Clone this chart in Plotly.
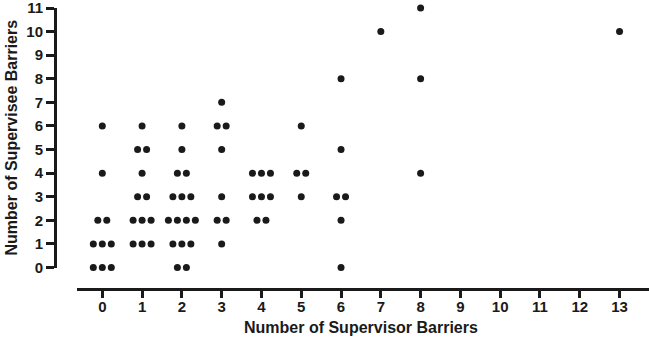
import plotly.graph_objects as go
from collections import defaultdict

# Data: supervisor barriers (x) vs supervisee barriers (y), one entry per participant
supervisor_barriers = (
    [0] * 10 + [1] * 12 + [2] * 16 + [3] * 8 + [4] * 8 + [5] * 4 + [6] * 6 + [7] * 1 + [8] * 3 + [13] * 1
)
supervisee_barriers = (
    [0, 0, 0, 1, 1, 1, 2, 2, 4, 6]
    + [1, 1, 1, 2, 2, 2, 3, 3, 4, 5, 5, 6]
    + [0, 0, 1, 1, 1, 2, 2, 2, 2, 3, 3, 3, 4, 4, 5, 6]
    + [1, 2, 2, 3, 5, 6, 6, 7]
    + [2, 2, 3, 3, 3, 4, 4, 4]
    + [3, 4, 4, 6]
    + [0, 2, 3, 3, 5, 8]
    + [10]
    + [4, 8, 11]
    + [10]
)
x_ticks = list(range(0, 14))
y_ticks = list(range(0, 12))
x_title = "Number of Supervisor Barriers"
y_title = "Number of Supervisee Barriers"

# Deterministic "scatter dot plot" spreading of identical values
groups = defaultdict(int)
for x, y in zip(supervisor_barriers, supervisee_barriers):
    groups[(x, y)] += 1
spread = 0.226
xs, ys = [], []
for (x, y), n in groups.items():
    for i in range(n):
        xs.append(x + (i - (n - 1) / 2) * spread)
        ys.append(y)

W, H = 649, 342
ml, mr, mt, mb = 55, 0, 8, 53
ph = H - mt - mb
pw = W - ml - mr
dx = (77 - ml) / pw
dy = (289 - 267.5) / ph

def px_to_paper_x(px):
    return (px - ml) / pw

def px_to_paper_y(py):
    return (H - mb - py) / ph

font_family = "Liberation Sans, Arial, sans-serif"
ink = "#1a1a1a"

fig = go.Figure()
fig.add_trace(go.Scatter(
    x=xs, y=ys, mode="markers",
    marker=dict(size=7, color=ink, line=dict(width=0)),
    cliponaxis=False, hoverinfo="skip",
))

axis_common = dict(
    anchor="free", position=0,
    tickmode="array",
    showline=True, linecolor=ink, linewidth=3,
    ticks="outside", tickwidth=2.5, tickcolor=ink,
    showgrid=False, zeroline=False,
    ticklabeloverflow="allow",
    tickfont=dict(family=font_family, size=15, weight="bold", color=ink),
)

fig.update_layout(
    width=W, height=H,
    margin=dict(l=ml, r=mr, t=mt, b=mb, pad=0),
    paper_bgcolor="white", plot_bgcolor="white",
    showlegend=False,
    font=dict(family=font_family, color=ink, size=15, weight="bold"),
    xaxis=dict(domain=[dx, 1], range=[-0.636, 13.74], ticklen=7, ticklabelstandoff=-4,
               tickvals=x_ticks, ticktext=[str(v) for v in x_ticks], **axis_common),
    yaxis=dict(domain=[dy, 1], range=[0, 11], ticklen=8,
               tickvals=y_ticks, ticktext=[str(v) for v in y_ticks], **axis_common),
    annotations=[
        dict(text=x_title, xref="paper", yref="paper",
             x=px_to_paper_x(361), y=px_to_paper_y(327),
             xanchor="center", yanchor="middle", showarrow=False,
             font=dict(family=font_family, size=16, weight="bold", color=ink)),
        dict(text=y_title, xref="paper", yref="paper", textangle=-90,
             x=px_to_paper_x(11), y=px_to_paper_y(137.5),
             xanchor="center", yanchor="middle", showarrow=False,
             font=dict(family=font_family, size=16, weight="bold", color=ink)),
    ],
)

fig.write_html("out.html", config={"displayModeBar": False},
               post_script="document.body.style.margin='0';document.body.style.padding='0';")
